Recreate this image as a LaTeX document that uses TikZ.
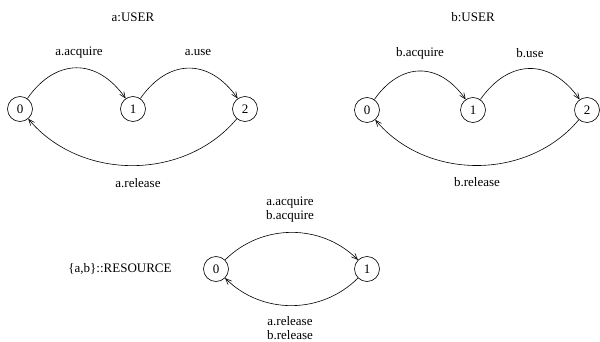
\documentclass[tikz,border=0pt]{standalone}
\usepackage{fontspec}
\setmainfont{Liberation Serif}
\usetikzlibrary{arrows.meta}
\tikzset{
  st/.style={circle,draw,line width=0.6pt,minimum size=25pt,inner sep=0pt,font=\fontsize{13}{14}\selectfont},
  lbl/.style={font=\fontsize{13}{14}\selectfont,inner sep=0pt},
  tr/.style={draw,line width=0.6pt,-{Straight Barb[length=6pt,width=5pt]}},
}
\begin{document}
\begin{tikzpicture}[x=1pt,y=-1pt]
\useasboundingbox (0,0) rectangle (600,342);
% a:USER
\node[lbl] (ta) at (133,17) {a:USER};
\node[st] (a0) at (20,109) {0};
\node[st] (a1) at (133,109) {1};
\node[st] (a2) at (245,109) {2};
\node[lbl] (la1) at (79,53) {a.acquire};
\node[lbl] (la2) at (198,53) {a.use};
\node[lbl] (la3) at (138,183) {a.release};
\path[tr] (a0) to[out=55,in=125,looseness=1.3] (a1);
\path[tr] (a1) to[out=55,in=125,looseness=1.3] (a2);
\path[tr] (a2) to[out=-130,in=-50,looseness=1.0] (a0);
% b:USER
\node[lbl] (tb) at (473,17) {b:USER};
\node[st] (b0) at (367,110) {0};
\node[st] (b1) at (473,110) {1};
\node[st] (b2) at (587,110) {2};
\node[lbl] (lb1) at (420,53) {b.acquire};
\node[lbl] (lb2) at (530,53) {b.use};
\node[lbl] (lb3) at (477,182) {b.release};
\path[tr] (b0) to[out=55,in=125,looseness=1.3] (b1);
\path[tr] (b1) to[out=55,in=125,looseness=1.3] (b2);
\path[tr] (b2) to[out=-130,in=-50,looseness=1.0] (b0);
% RESOURCE
\node[lbl] (tr) at (120,269) {\{a,b\}::RESOURCE};
\node[st] (r0) at (216,269) {0};
\node[st] (r1) at (367,269) {1};
\node[lbl,align=center] (lr1) at (290,210) {a.acquire\\b.acquire};
\node[lbl,align=center] (lr2) at (290,328) {a.release\\b.release};
\path[tr] (r0) to[out=45,in=135,looseness=1.0] (r1);
\path[tr] (r1) to[out=-135,in=-45,looseness=1.0] (r0);
\end{tikzpicture}
\end{document}
